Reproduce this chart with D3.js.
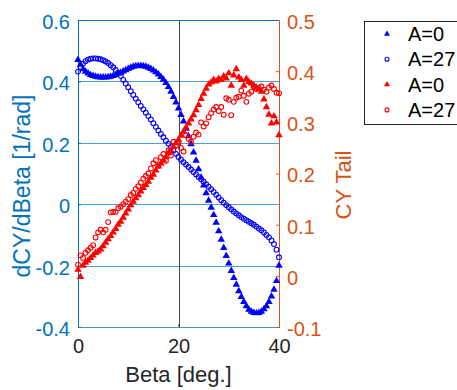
<!DOCTYPE html>
<html>
<head>
<meta charset="utf-8">
<script src="https://d3js.org/d3.v7.min.js"></script>
<style>
  body { margin: 0; background: #fff; }
  svg { display: block; font-family: "Liberation Sans", Arial, Helvetica, sans-serif; }
</style>
</head>
<body>
<svg id="chart" width="457" height="390"></svg>
<script>
// Beta [deg.]
var beta = [0, 0.5, 1, 1.5, 2, 2.5, 3, 3.5, 4, 4.5,
  5, 5.5, 6, 6.5, 7, 7.5, 8, 8.5, 9, 9.5,
  10, 10.5, 11, 11.5, 12, 12.5, 13, 13.5, 14, 14.5,
  15, 15.5, 16, 16.5, 17, 17.5, 18, 18.5, 19, 19.5,
  20, 20.5, 21, 21.5, 22, 22.5, 23, 23.5, 24, 24.5,
  25, 25.5, 26, 26.5, 27, 27.5, 28, 28.5, 29, 29.5,
  30, 30.5, 31, 31.5, 32, 32.5, 33, 33.5, 34, 34.5,
  35, 35.5, 36, 36.5, 37, 37.5, 38, 38.5, 39, 39.5,
  40];

// dCY/dBeta, left axis
var dcyA0 = [0.47, 0.455, 0.44, 0.432, 0.426, 0.421, 0.418, 0.416, 0.414, 0.413,
  0.413, 0.413, 0.414, 0.416, 0.418, 0.421, 0.425, 0.429, 0.433, 0.437,
  0.441, 0.445, 0.448, 0.45, 0.451, 0.451, 0.45, 0.448, 0.445, 0.441,
  0.436, 0.43, 0.423, 0.415, 0.406, 0.395, 0.382, 0.367, 0.35, 0.332,
  0.312, 0.291, 0.27, 0.246, 0.222, 0.196, 0.169, 0.142, 0.114, 0.087,
  0.061, 0.036, 0.012, -0.011, -0.035, -0.06, -0.088, -0.115, -0.142, -0.168,
  -0.193, -0.217, -0.24, -0.262, -0.283, -0.302, -0.318, -0.332, -0.343, -0.35,
  -0.354, -0.355, -0.354, -0.35, -0.342, -0.332, -0.318, -0.3, -0.278, -0.25,
  -0.2];

var dcyA27 = [0.432, 0.447, 0.458, 0.466, 0.471, 0.474, 0.475, 0.475, 0.474, 0.472,
  0.469, 0.465, 0.46, 0.453, 0.446, 0.437, 0.428, 0.418, 0.405, 0.393,
  0.381, 0.368, 0.356, 0.344, 0.332, 0.32, 0.309, 0.298, 0.287, 0.276,
  0.264, 0.252, 0.24, 0.229, 0.218, 0.207, 0.197, 0.186, 0.175, 0.164,
  0.154, 0.145, 0.137, 0.129, 0.121, 0.113, 0.105, 0.097, 0.089, 0.081,
  0.073, 0.065, 0.057, 0.049, 0.04, 0.031, 0.022, 0.013, 0.005, -0.003,
  -0.01, -0.017, -0.024, -0.03, -0.036, -0.042, -0.047, -0.052, -0.057, -0.062,
  -0.067, -0.073, -0.079, -0.085, -0.092, -0.1, -0.108, -0.118, -0.13, -0.148,
  -0.173];

// CY Tail, right axis
var cyA0 = [0.012, -0.002, 0.02, 0.026, 0.03, 0.035, 0.04, 0.045, 0.048, 0.052,
  0.058, 0.065, 0.072, 0.078, 0.085, 0.092, 0.1, 0.106, 0.114, 0.122,
  0.13, 0.138, 0.145, 0.152, 0.158, 0.165, 0.172, 0.178, 0.184, 0.192,
  0.198, 0.206, 0.214, 0.22, 0.226, 0.232, 0.24, 0.245, 0.252, 0.26,
  0.266, 0.274, 0.282, 0.29, 0.298, 0.306, 0.314, 0.324, 0.334, 0.346,
  0.356, 0.366, 0.374, 0.378, 0.383, 0.38, 0.385, 0.383, 0.39, 0.386,
  0.396, 0.372, 0.392, 0.404, 0.388, 0.383, 0.372, 0.385, 0.379, 0.376,
  0.372, 0.368, 0.365, 0.36, 0.345, 0.33, 0.315, 0.298, 0.312, 0.3,
  0.275];

var cyA27 = [0.022, 0.04, 0.035, 0.045, 0.05, 0.055, 0.06, 0.075, 0.085, 0.09,
  0.085, 0.09, 0.105, 0.124, 0.125, 0.125, 0.132, 0.135, 0.14, 0.145,
  0.15, 0.158, 0.162, 0.17, 0.175, 0.182, 0.19, 0.195, 0.2, 0.21,
  0.22, 0.226, 0.215, 0.232, 0.238, 0.225, 0.245, 0.235, 0.262, 0.255,
  0.26, 0.25, 0.243, 0.275, 0.268, 0.262, 0.272, 0.28, 0.276, 0.3,
  0.292, 0.298, 0.31, 0.318, 0.325, 0.33, 0.322, 0.33, 0.315, 0.347,
  0.344, 0.314, 0.34, 0.348, 0.35, 0.362, 0.352, 0.34, 0.356, 0.36,
  0.37, 0.365, 0.367, 0.37, 0.364, 0.36, 0.368, 0.372, 0.365, 0.358,
  0.357];

var xTicks = [0, 20, 40];
var leftTicks = [-0.4, -0.2, 0, 0.2, 0.4, 0.6];
var rightTicks = [-0.1, 0, 0.1, 0.2, 0.3, 0.4, 0.5];
var legendLabels = ["A=0", "A=27", "A=0", "A=27"];

var blueAxis = "#0072BD", orangeAxis = "#D95319", dark = "#262626";

var svg = d3.select("#chart");
var plotL = 78, plotR = 279, plotT = 20, plotB = 327;

var x = d3.scaleLinear().domain([0, 40]).range([plotL, plotR]);
var yL = d3.scaleLinear().domain([-0.4, 0.6]).range([plotB, plotT]);
var yR = d3.scaleLinear().domain([-0.1, 0.5]).range([plotB, plotT]);

// grid
svg.append("g").selectAll("line")
  .data(leftTicks)
  .enter().append("line")
  .attr("x1", plotL).attr("x2", plotR)
  .attr("y1", function(d) { return Math.round(yL(d)) + 0.5; })
  .attr("y2", function(d) { return Math.round(yL(d)) + 0.5; })
  .attr("stroke", "#4d9fd6")
  .attr("stroke-width", 1);

svg.append("g").selectAll("line")
  .data(xTicks.slice(1, -1))
  .enter().append("line")
  .attr("x1", function(d) { return Math.round(x(d)) + 0.5; })
  .attr("x2", function(d) { return Math.round(x(d)) + 0.5; })
  .attr("y1", plotT).attr("y2", plotB)
  .attr("stroke", "#4a4a4a")
  .attr("stroke-width", 1);

// axes
var fmt = function(d) { return String(d); };

var gx = svg.append("g")
  .attr("transform", "translate(0," + plotB + ")")
  .call(d3.axisBottom(x).tickValues(xTicks).tickSize(-3).tickPadding(12).tickFormat(fmt));
gx.select(".domain").attr("stroke", "#4d8fc4");
gx.selectAll("line").attr("stroke", dark);
gx.selectAll("text").attr("fill", dark).style("font-size", "20px");

var gl = svg.append("g")
  .attr("transform", "translate(" + plotL + ",0)")
  .call(d3.axisLeft(yL).tickValues(leftTicks).tickSize(-3).tickPadding(8).tickFormat(fmt));
gl.select(".domain").attr("stroke", blueAxis);
gl.selectAll("line").attr("stroke", blueAxis);
gl.selectAll("text").attr("fill", blueAxis).attr("dy", "0.42em").style("font-size", "20px");

var gr = svg.append("g")
  .attr("transform", "translate(" + plotR + ",0)")
  .call(d3.axisRight(yR).tickValues(rightTicks).tickSize(-3).tickPadding(8).tickFormat(fmt));
gr.select(".domain").attr("stroke", orangeAxis);
gr.selectAll("line").attr("stroke", orangeAxis);
gr.selectAll("text").attr("fill", orangeAxis).attr("dy", "0.42em").style("font-size", "20px");

svg.append("line")
  .attr("x1", plotL).attr("x2", plotR)
  .attr("y1", plotT + 0.5).attr("y2", plotT + 0.5)
  .attr("stroke", blueAxis);

// labels
svg.append("text")
  .attr("x", x(20)).attr("y", 382)
  .attr("text-anchor", "middle")
  .attr("fill", dark)
  .style("font-size", "22px")
  .text("Beta [deg.]");

svg.append("text")
  .attr("transform", "translate(30,186) rotate(-90)")
  .attr("text-anchor", "middle")
  .attr("fill", blueAxis)
  .style("font-size", "23px")
  .text("dCY/dBeta [1/rad]");

svg.append("text")
  .attr("transform", "translate(351,185) rotate(-90)")
  .attr("text-anchor", "middle")
  .attr("fill", orangeAxis)
  .style("font-size", "22px")
  .text("CY Tail");

// markers
var tri = d3.symbol().type(d3.symbolTriangle).size(24);
var triLegend = d3.symbol().type(d3.symbolTriangle).size(16);

function drawTriangles(values, yScale, color) {
  svg.append("g").selectAll("path")
    .data(beta)
    .enter().append("path")
    .attr("d", tri)
    .attr("transform", function(d, i) { return "translate(" + x(d) + "," + yScale(values[i]) + ")"; })
    .attr("fill", color);
}

function drawCircles(values, yScale, color) {
  svg.append("g").selectAll("circle")
    .data(beta)
    .enter().append("circle")
    .attr("cx", function(d) { return x(d); })
    .attr("cy", function(d, i) { return yScale(values[i]); })
    .attr("r", 2.4)
    .attr("fill", "none")
    .attr("stroke", color)
    .attr("stroke-width", 1.1);
}

drawTriangles(dcyA0, yL, "#0000ff");
drawCircles(dcyA27, yL, "#0000ff");
drawTriangles(cyA0, yR, "#ff0000");
drawCircles(cyA27, yR, "#ff0000");

// legend
var legend = svg.append("g");
legend.append("rect")
  .attr("x", 364.5).attr("y", 21.5)
  .attr("width", 110).attr("height", 103)
  .attr("fill", "#fff")
  .attr("stroke", dark)
  .attr("stroke-width", 1);

var legendColors = ["#0000ff", "#0000ff", "#ff0000", "#ff0000"];
legendLabels.forEach(function(label, i) {
  var cy = 34 + i * 25.3;
  if (i % 2 === 0) {
    legend.append("path")
      .attr("d", triLegend)
      .attr("transform", "translate(387," + cy + ")")
      .attr("fill", legendColors[i]);
  } else {
    legend.append("circle")
      .attr("cx", 387).attr("cy", cy).attr("r", 2)
      .attr("fill", "none")
      .attr("stroke", legendColors[i])
      .attr("stroke-width", 1.1);
  }
  legend.append("text")
    .attr("x", 408).attr("y", cy + 7)
    .attr("fill", "#000")
    .style("font-size", "20px")
    .text(label);
});
</script>
</body>
</html>
